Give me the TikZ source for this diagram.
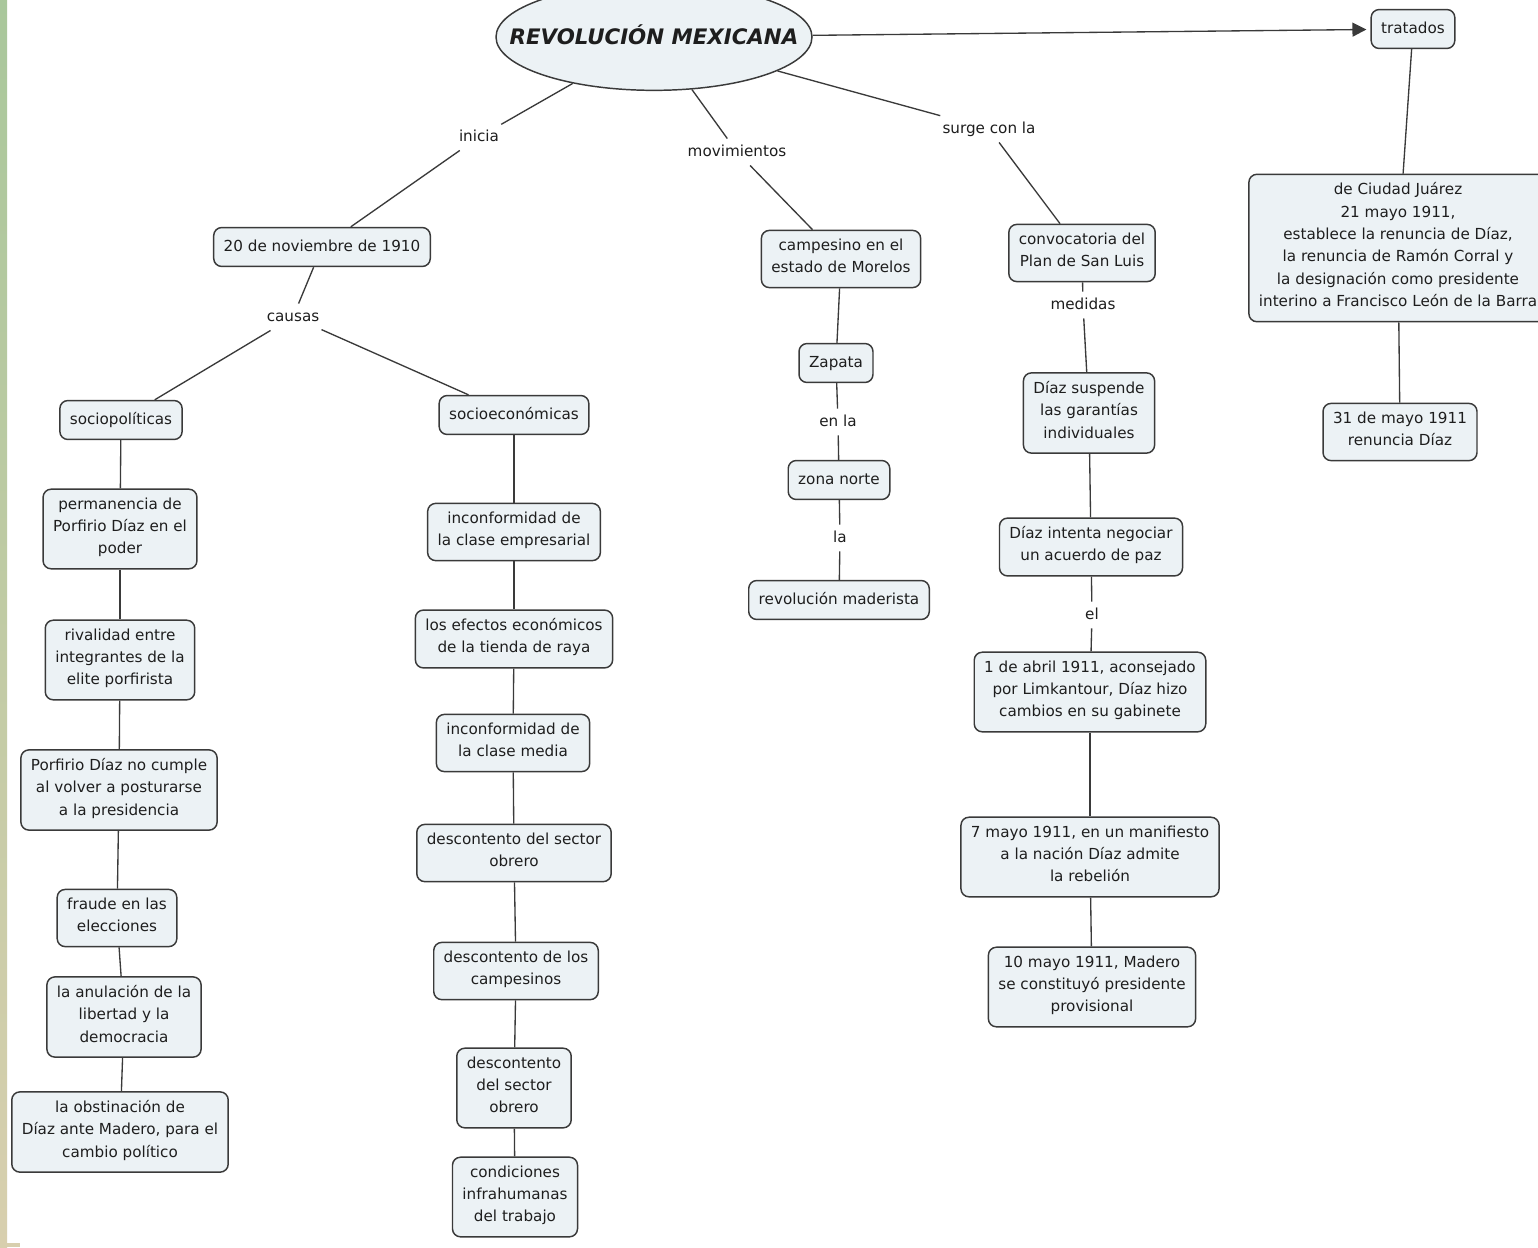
\documentclass[tikz,border=0pt]{standalone}
\usepackage{fontspec}
\setmainfont{DejaVu Sans}
\usepackage{xcolor}
\usepackage{tikz}
\usetikzlibrary{shapes.geometric}
\usetikzlibrary{arrows.meta}
\definecolor{Fondo}{HTML}{ECF2F5}
\definecolor{Borde}{HTML}{3A3A3A}
\definecolor{Tinta}{HTML}{1E1E1E}
\definecolor{FranjaA}{HTML}{A9C79B}
\definecolor{FranjaB}{HTML}{D8CFAE}
\tikzset{
  Concepto/.style={draw=Borde, line width=1.1pt, fill=Fondo, rounded corners=6pt,
    align=center, inner xsep=7.5pt, inner ysep=6.2pt,
    execute at begin node=\strut, execute at end node=\strut}, % Kästen
  Enlace/.style={inner sep=1.5pt,
    execute at begin node=\strut, execute at end node=\strut}, % Verbindungswörter
  Linie/.style={draw=Borde, line width=1pt} % Verbindungslinien
}

\begin{document}
\begin{tikzpicture}[
x=0.75pt, y=-0.75pt,
font=\fontsize{11.4}{16.8}\selectfont, text=Tinta,
>={Triangle[length=10.5pt,width=10.5pt]} % Pfeilspitze
]
\useasboundingbox (0,0) rectangle (1538,1247);
\fill[white] (0,0) rectangle (1538,1247);
\shade[top color=FranjaA, bottom color=FranjaB] (0,0) rectangle (7,1247);
\fill[FranjaB] (0,1243) rectangle (20,1247);

%Titel
\node[ellipse, draw=Borde, line width=1.1pt, fill=Fondo, minimum width=237pt,
  minimum height=80pt, inner sep=0pt,
  label={[font=\fontsize{16}{19}\selectfont\bfseries\itshape, yshift=1.5pt]center:REVOLUCIÓN MEXICANA}]
  (Rev) at (654,37) {};

%Verbindungswörter
\node[Enlace] (Inicia) at (479,137) {inicia};
\node[Enlace] (Mov) at (737,152) {movimientos};
\node[Enlace] (Surge) at (989,129) {surge con la};
\node[Enlace] (Causas) at (293,317) {causas};
\node[Enlace] (EnLa) at (838,422) {en la};
\node[Enlace] (La) at (840,538) {la};
\node[Enlace] (Medidas) at (1083,305) {medidas};
\node[Enlace] (El) at (1092,615) {el};

%Kästen
\node[Concepto] (Fecha) at (322,247) {20 de noviembre de 1910};
\node[Concepto] (SocPol) at (121,420) {sociopolíticas};
\node[Concepto] (SocEco) at (514,415) {socioeconómicas};

\node[Concepto] (P1) at (120,529) {permanencia de\\Porfirio Díaz en el\\poder};
\node[Concepto] (P2) at (120,660) {rivalidad entre\\integrantes de la\\elite porfirista};
\node[Concepto] (P3) at (119,790) {Porfirio Díaz no cumple\\al volver a posturarse\\a la presidencia};
\node[Concepto] (P4) at (117,918) {fraude en las\\elecciones};
\node[Concepto] (P5) at (124,1017) {la anulación de la\\libertad y la\\democracia};
\node[Concepto] (P6) at (120,1132) {la obstinación de\\Díaz ante Madero, para el\\cambio político};

\node[Concepto] (E1) at (514,532) {inconformidad de\\la clase empresarial};
\node[Concepto] (E2) at (514,639) {los efectos económicos\\de la tienda de raya};
\node[Concepto] (E3) at (513,743) {inconformidad de\\la clase media};
\node[Concepto] (E4) at (514,853) {descontento del sector\\obrero};
\node[Concepto] (E5) at (516,971) {descontento de los\\campesinos};
\node[Concepto] (E6) at (514,1088) {descontento\\del sector\\obrero};
\node[Concepto] (E7) at (515,1197) {condiciones\\infrahumanas\\del trabajo};

\node[Concepto] (M1) at (841,259) {campesino en el\\estado de Morelos};
\node[Concepto] (M2) at (836,363) {Zapata};
\node[Concepto] (M3) at (839,480) {zona norte};
\node[Concepto] (M4) at (839,600) {revolución maderista};

\node[Concepto] (L1) at (1082,253) {convocatoria del\\Plan de San Luis};
\node[Concepto] (L2) at (1089,413) {Díaz suspende\\las garantías\\individuales};
\node[Concepto] (L3) at (1091,547) {Díaz intenta negociar\\un acuerdo de paz};
\node[Concepto] (L4) at (1090,692) {1 de abril 1911, aconsejado\\por Limkantour, Díaz hizo\\cambios en su gabinete};
\node[Concepto] (L5) at (1090,857) {7 mayo 1911, en un manifiesto\\a la nación Díaz admite\\la rebelión};
\node[Concepto] (L6) at (1092,987) {10 mayo 1911, Madero\\se constituyó presidente\\provisional};

\node[Concepto] (Trat) at (1413,29) {tratados};
\node[Concepto] (J1) at (1398,248) {de Ciudad Juárez\\21 mayo 1911,\\establece la renuncia de Díaz,\\la renuncia de Ramón Corral y\\la designación como presidente\\interino a Francisco León de la Barra};
\node[Concepto] (J2) at (1400,432) {31 de mayo 1911\\renuncia Díaz};

%Verbindungen
\foreach \a/\b in {Rev/Inicia, Inicia/Fecha, Rev/Mov, Mov/M1, Rev/Surge, Surge/L1,
  Fecha/Causas, Causas/SocPol, Causas/SocEco,
  SocPol/P1, P1/P2, P2/P3, P3/P4, P4/P5, P5/P6,
  SocEco/E1, E1/E2, E2/E3, E3/E4, E4/E5, E5/E6, E6/E7,
  M1/M2, M2/EnLa, EnLa/M3, M3/La, La/M4,
  L1/Medidas, Medidas/L2, L2/L3, L3/El, El/L4, L4/L5, L5/L6,
  Trat/J1, J1/J2}
  \draw[Linie] (\a) -- (\b);

%Pfeil
\draw[Linie, ->, shorten >=3pt] (Rev) -- (Trat);

\end{tikzpicture}
\end{document}
